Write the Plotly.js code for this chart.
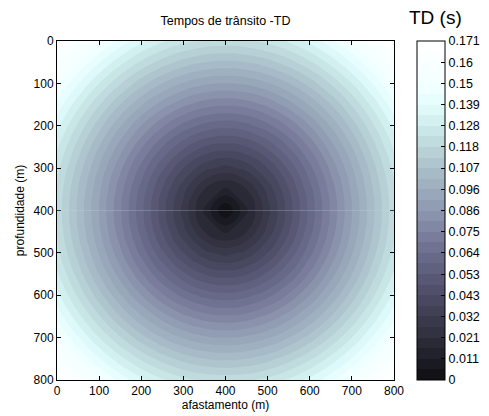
<!DOCTYPE html>
<html>
<head>
<meta charset="utf-8">
<script src="https://cdn.plot.ly/plotly-3.0.1.min.js"></script>
<style>html,body{margin:0;padding:0;background:#fff;}#chart{width:489px;height:416px;}</style>
</head>
<body>
<div id="chart"></div>
<script>
// afastamento (m) and profundidade (m) grid positions
const afastamento = [0,50,100,150,200,250,300,350,400,450,500,550,600,650,700,750,800];
const profundidade = [0,50,100,150,200,250,300,350,400,450,500,550,600,650,700,750,800];
// travel times TD (s)
const tempos = [
 [0.1711,0.1607,0.1512,0.1426,0.1352,0.1292,0.1247,0.1219,0.1210,0.1219,0.1247,0.1292,0.1352,0.1426,0.1512,0.1607,0.1711],
 [0.1607,0.1497,0.1394,0.1301,0.1219,0.1152,0.1101,0.1069,0.1058,0.1069,0.1101,0.1152,0.1219,0.1301,0.1394,0.1497,0.1607],
 [0.1512,0.1394,0.1283,0.1181,0.1090,0.1014,0.0956,0.0920,0.0907,0.0920,0.0956,0.1014,0.1090,0.1181,0.1283,0.1394,0.1512],
 [0.1426,0.1301,0.1181,0.1069,0.0968,0.0882,0.0814,0.0771,0.0756,0.0771,0.0814,0.0882,0.0968,0.1069,0.1181,0.1301,0.1426],
 [0.1352,0.1219,0.1090,0.0968,0.0855,0.0756,0.0676,0.0623,0.0605,0.0623,0.0676,0.0756,0.0855,0.0968,0.1090,0.1219,0.1352],
 [0.1292,0.1152,0.1014,0.0882,0.0756,0.0642,0.0545,0.0478,0.0454,0.0478,0.0545,0.0642,0.0756,0.0882,0.1014,0.1152,0.1292],
 [0.1247,0.1101,0.0956,0.0814,0.0676,0.0545,0.0428,0.0338,0.0302,0.0338,0.0428,0.0545,0.0676,0.0814,0.0956,0.1101,0.1247],
 [0.1219,0.1069,0.0920,0.0771,0.0623,0.0478,0.0338,0.0214,0.0151,0.0214,0.0338,0.0478,0.0623,0.0771,0.0920,0.1069,0.1219],
 [0.1210,0.1058,0.0907,0.0756,0.0605,0.0454,0.0302,0.0151,0.0000,0.0151,0.0302,0.0454,0.0605,0.0756,0.0907,0.1058,0.1210],
 [0.1219,0.1069,0.0920,0.0771,0.0623,0.0478,0.0338,0.0214,0.0151,0.0214,0.0338,0.0478,0.0623,0.0771,0.0920,0.1069,0.1219],
 [0.1247,0.1101,0.0956,0.0814,0.0676,0.0545,0.0428,0.0338,0.0302,0.0338,0.0428,0.0545,0.0676,0.0814,0.0956,0.1101,0.1247],
 [0.1292,0.1152,0.1014,0.0882,0.0756,0.0642,0.0545,0.0478,0.0454,0.0478,0.0545,0.0642,0.0756,0.0882,0.1014,0.1152,0.1292],
 [0.1352,0.1219,0.1090,0.0968,0.0855,0.0756,0.0676,0.0623,0.0605,0.0623,0.0676,0.0756,0.0855,0.0968,0.1090,0.1219,0.1352],
 [0.1426,0.1301,0.1181,0.1069,0.0968,0.0882,0.0814,0.0771,0.0756,0.0771,0.0814,0.0882,0.0968,0.1069,0.1181,0.1301,0.1426],
 [0.1512,0.1394,0.1283,0.1181,0.1090,0.1014,0.0956,0.0920,0.0907,0.0920,0.0956,0.1014,0.1090,0.1181,0.1283,0.1394,0.1512],
 [0.1607,0.1497,0.1394,0.1301,0.1219,0.1152,0.1101,0.1069,0.1058,0.1069,0.1101,0.1152,0.1219,0.1301,0.1394,0.1497,0.1607],
 [0.1711,0.1607,0.1512,0.1426,0.1352,0.1292,0.1247,0.1219,0.1210,0.1219,0.1247,0.1292,0.1352,0.1426,0.1512,0.1607,0.1711]
];
const cbTickVals = [0,0.0107,0.0214,0.0321,0.0428,0.0534,0.0641,0.0748,0.0855,0.0962,0.1069,0.1176,0.1283,0.1389,0.1496,0.1603,0.171];
const cbTickText = ['0','0.011','0.021','0.032','0.043','0.053','0.064','0.075','0.086','0.096','0.107','0.118','0.128','0.139','0.15','0.16','0.171'];
const axisTicks = [0,100,200,300,400,500,600,700,800];

// bone-like colour map, matched to the reference's colour bar
const boneScale = [
  [0,'rgb(14,14,18)'],
  [0.125,'rgb(46,46,60)'],
  [0.25,'rgb(76,76,102)'],
  [0.375,'rgb(108,108,142)'],
  [0.5,'rgb(142,152,176)'],
  [0.625,'rgb(170,192,202)'],
  [0.6875,'rgb(188,214,218)'],
  [0.75,'rgb(206,236,236)'],
  [0.8125,'rgb(228,253,253)'],
  [0.875,'rgb(244,255,255)'],
  [1,'rgb(255,255,255)']
];
const fam = '"Liberation Sans", Arial, sans-serif';
const font = {family:fam, size:12, color:'#000'};

const trace = {
  type:'contour', x:afastamento, y:profundidade, z:tempos,
  colorscale:boneScale, zmin:0, zmax:0.171, zauto:false,
  autocontour:false,
  contours:{start:0, end:0.171, size:0.00534375, coloring:'fill', showlines:false},
  line:{width:0, smoothing:1.3},
  colorbar:{
    xref:'container', x:0.8528, xanchor:'left',
    yref:'paper', y:0.5, yanchor:'middle', len:1, lenmode:'fraction',
    thickness:28, thicknessmode:'pixels',
    outlinewidth:1, outlinecolor:'#000',
    tickmode:'array', tickvals:cbTickVals, ticktext:cbTickText,
    ticks:'inside', ticklen:4, tickcolor:'#000',
    tickfont:{family:fam, size:12.5, color:'#000'}, xpad:0, ypad:0
  },
  hoverinfo:'skip'
};

const layout = {
  width:489, height:416,
  margin:{l:57, r:95, t:41, b:36},
  paper_bgcolor:'#fff', plot_bgcolor:'#fff',
  font:font,
  title:{text:'Tempos de trânsito -TD', font:{family:fam, size:12.5, color:'#000'},
    xref:'paper', x:0.5, xanchor:'center', yref:'container', y:0.9495, yanchor:'middle'},
  xaxis:{range:[0,800], tickvals:axisTicks, ticks:'inside', ticklen:4, tickcolor:'#000',
    showline:true, linecolor:'#000', linewidth:1, mirror:'ticks', showgrid:false, zeroline:false,
    tickfont:font, title:{text:'afastamento (m)', font:font, standoff:1}},
  yaxis:{range:[800,0], tickvals:axisTicks, ticks:'inside', ticklen:4, tickcolor:'#000',
    showline:true, linecolor:'#000', linewidth:1, mirror:'ticks', showgrid:false, zeroline:false,
    tickfont:font, title:{text:'profundidade (m)', font:font, standoff:6}},
  shapes:[{type:'line', xref:'x', yref:'y', x0:0, x1:800, y0:400, y1:400,
    line:{color:'rgba(200,215,225,0.25)', width:1}}],
  annotations:[{text:'TD (s)', xref:'paper', yref:'paper', x:1.123, y:1.0, yshift:24,
    xanchor:'center', yanchor:'middle', showarrow:false,
    font:{family:fam, size:19, color:'#000'}}]
};

Plotly.newPlot('chart', [trace], layout, {displayModeBar:false, staticPlot:true});
</script>
</body>
</html>
